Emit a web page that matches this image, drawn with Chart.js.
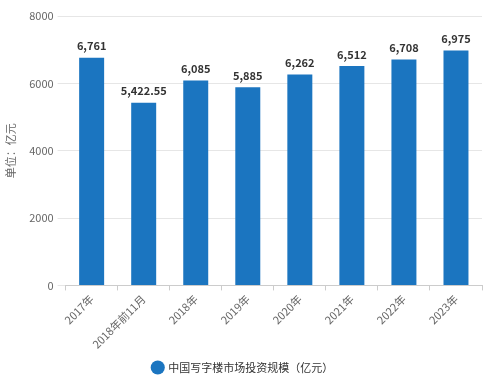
<!DOCTYPE html>
<html>
<head>
<meta charset="utf-8">
<script src="https://cdn.jsdelivr.net/npm/chart.js@4/dist/chart.umd.min.js"></script>
<style>
  html, body { margin: 0; padding: 0; background: #fff; }
  #wrap { width: 488px; height: 378px; }
</style>
</head>
<body>
<div id="wrap"><canvas id="c"></canvas></div>
<script>
// данные с картинки
const categories = ["2017年", "2018年前11月", "2018年", "2019年", "2020年", "2021年", "2022年", "2023年"];
const values = [6761, 5422.55, 6085, 5885, 6262, 6512, 6708, 6975];
const valueLabels = ["6,761", "5,422.55", "6,085", "5,885", "6,262", "6,512", "6,708", "6,975"];
const seriesName = "中国写字楼市场投资规模（亿元）";
const yTitle = "单位：亿元";

const FONT = "'Microsoft YaHei', 'Noto Sans CJK SC', 'Noto Sans', sans-serif";

// подписи над столбиками
const barLabels = {
  id: "barLabels",
  afterDatasetsDraw(chart) {
    const ctx = chart.ctx;
    const meta = chart.getDatasetMeta(0);
    ctx.save();
    ctx.font = "bold 11px " + FONT;
    ctx.fillStyle = "#333";
    ctx.textAlign = "center";
    ctx.textBaseline = "bottom";
    meta.data.forEach((bar, i) => {
      ctx.fillText(valueLabels[i], bar.x, bar.y - 6);
    });
    ctx.restore();
  }
};

// легенду чуть ниже
const legendShift = {
  id: "legendShift",
  afterLayout(chart) {
    if (chart.legend) { chart.legend.top += 5; chart.legend.bottom += 5; }
  }
};

new Chart(document.getElementById("c"), {
  type: "bar",
  data: {
    labels: categories,
    datasets: [{
      label: seriesName,
      data: values,
      backgroundColor: "#1b75c0",
      borderWidth: 0,
      barPercentage: 0.48,
      categoryPercentage: 1
    }]
  },
  options: {
    responsive: true,
    maintainAspectRatio: false,
    animation: false,
    layout: { padding: { left: 4, right: 6, top: 16, bottom: 0 } },
    scales: {
      x: {
        grid: { display: true, drawOnChartArea: false, drawTicks: true, tickLength: 5, color: "#ccc" },
        border: { display: true, color: "#ccc" },
        ticks: {
          font: { family: FONT, size: 11 },
          color: "#666",
          maxRotation: 45, minRotation: 45,
          padding: 2
        }
      },
      y: {
        min: 0, max: 8000,
        ticks: {
          stepSize: 2000, font: { family: FONT, size: 11 }, color: "#666", padding: 4,
          callback: (v) => String(v)
        },
        grid: { color: "#e6e6e6", tickLength: 8, drawTicks: true },
        border: { display: false },
        title: { display: true, text: yTitle, font: { family: FONT, size: 11 }, color: "#666", padding: { top: 0, bottom: 8 } }
      }
    },
    plugins: {
      legend: {
        position: "bottom",
        labels: {
          usePointStyle: true, pointStyle: "circle", boxWidth: 10, boxHeight: 10,
          font: { family: FONT, size: 11 }, color: "#333", padding: 4
        }
      },
      tooltip: { enabled: false }
    }
  },
  plugins: [barLabels, legendShift]
});
</script>
</body>
</html>
